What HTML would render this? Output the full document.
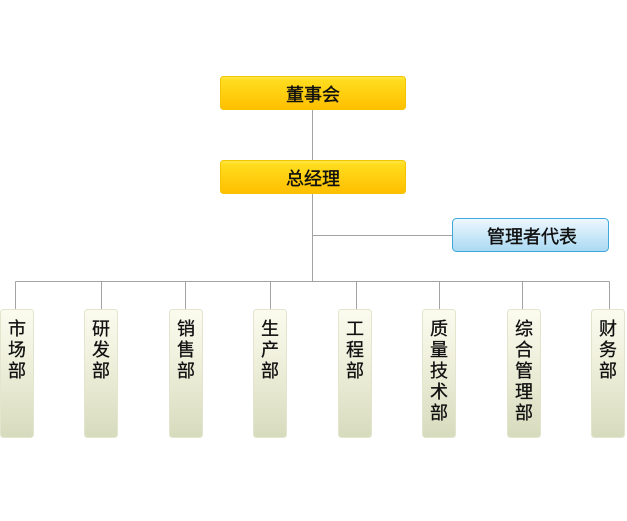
<!DOCTYPE html>
<html>
<head>
<meta charset="utf-8">
<style>
  html,body{margin:0;padding:0;background:#fff;}
  svg{display:block;}
  text{font-family:"WenQuanYi Zen Hei","Noto Sans CJK SC",sans-serif;fill:#111;stroke:#111;stroke-width:0.3;}
  text.h{stroke-width:0.4;}
</style>
</head>
<body>
<svg width="627" height="521" viewBox="0 0 627 521" xmlns="http://www.w3.org/2000/svg">
  <defs>
    <linearGradient id="yel" x1="0" y1="0" x2="0" y2="1">
      <stop offset="0" stop-color="#ffe84a"/>
      <stop offset="0.12" stop-color="#ffdc1e"/>
      <stop offset="1" stop-color="#ffbf00"/>
    </linearGradient>
    <linearGradient id="blu" x1="0" y1="0" x2="0" y2="1">
      <stop offset="0" stop-color="#eef8fe"/>
      <stop offset="1" stop-color="#a9d9f3"/>
    </linearGradient>
    <linearGradient id="grn" x1="0" y1="0" x2="0" y2="1">
      <stop offset="0" stop-color="#fbfbef"/>
      <stop offset="0.4" stop-color="#eff0dc"/>
      <stop offset="1" stop-color="#d7dbbd"/>
    </linearGradient>
  </defs>

  <g stroke="#a3a3a3" stroke-width="1" fill="none" shape-rendering="crispEdges">
    <line x1="312.5" y1="110" x2="312.5" y2="160"/>
    <line x1="312.5" y1="194" x2="312.5" y2="281.5"/>
    <line x1="312.5" y1="235.5" x2="453" y2="235.5"/>
    <line x1="15.5" y1="281.5" x2="609.5" y2="281.5"/>
    <line x1="15.5" y1="281.5" x2="15.5" y2="309"/>
    <line x1="101.5" y1="281.5" x2="101.5" y2="309"/>
    <line x1="185.5" y1="281.5" x2="185.5" y2="309"/>
    <line x1="270.5" y1="281.5" x2="270.5" y2="309"/>
    <line x1="356.5" y1="281.5" x2="356.5" y2="309"/>
    <line x1="439.5" y1="281.5" x2="439.5" y2="309"/>
    <line x1="522.5" y1="281.5" x2="522.5" y2="309"/>
    <line x1="609.5" y1="281.5" x2="609.5" y2="309"/>
  </g>

  <rect x="220.5" y="76.5" width="185" height="33" rx="3" fill="url(#yel)" stroke="#f3c400"/>
  <text class="h" x="313" y="94" font-size="18" text-anchor="middle" dominant-baseline="central">董事会</text>

  <rect x="220.5" y="160.5" width="185" height="33" rx="3" fill="url(#yel)" stroke="#f3c400"/>
  <text class="h" x="313" y="178" font-size="18" text-anchor="middle" dominant-baseline="central">总经理</text>

  <rect x="452.5" y="218.5" width="156" height="33" rx="4" fill="url(#blu)" stroke="#3fa7d9"/>
  <text class="h" x="532" y="236" font-size="18" text-anchor="middle" dominant-baseline="central">管理者代表</text>

  <g stroke="#e3e5cf" stroke-width="1">
    <rect x="0.5" y="309.5" width="33" height="128" rx="3" fill="url(#grn)"/>
    <rect x="84.5" y="309.5" width="33" height="128" rx="3" fill="url(#grn)"/>
    <rect x="169.5" y="309.5" width="33" height="128" rx="3" fill="url(#grn)"/>
    <rect x="253.5" y="309.5" width="33" height="128" rx="3" fill="url(#grn)"/>
    <rect x="338.5" y="309.5" width="33" height="128" rx="3" fill="url(#grn)"/>
    <rect x="422.5" y="309.5" width="33" height="128" rx="3" fill="url(#grn)"/>
    <rect x="507.5" y="309.5" width="33" height="128" rx="3" fill="url(#grn)"/>
    <rect x="591.5" y="309.5" width="33" height="128" rx="3" fill="url(#grn)"/>
  </g>

  <g font-size="18" text-anchor="middle" dominant-baseline="central">
    <text x="17" y="328">市</text><text x="17" y="349">场</text><text x="17" y="370">部</text>
    <text x="101" y="328">研</text><text x="101" y="349">发</text><text x="101" y="370">部</text>
    <text x="186" y="328">销</text><text x="186" y="349">售</text><text x="186" y="370">部</text>
    <text x="270" y="328">生</text><text x="270" y="349">产</text><text x="270" y="370">部</text>
    <text x="355" y="328">工</text><text x="355" y="349">程</text><text x="355" y="370">部</text>
    <text x="439" y="328">质</text><text x="439" y="349">量</text><text x="439" y="370">技</text><text x="439" y="391">术</text><text x="439" y="412">部</text>
    <text x="524" y="328">综</text><text x="524" y="349">合</text><text x="524" y="370">管</text><text x="524" y="391">理</text><text x="524" y="412">部</text>
    <text x="608" y="328">财</text><text x="608" y="349">务</text><text x="608" y="370">部</text>
  </g>
</svg>
</body>
</html>
